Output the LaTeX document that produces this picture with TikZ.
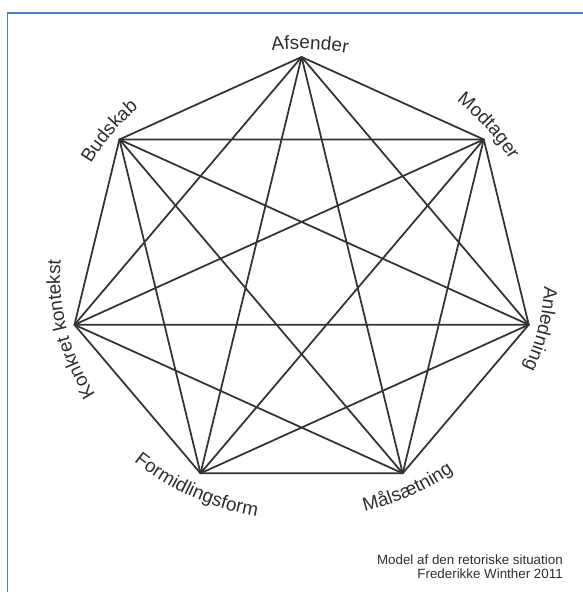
\documentclass[tikz,border=0pt]{standalone}
\usepackage{fontspec}
\setmainfont{Liberation Sans}
\usetikzlibrary{decorations.text}

\definecolor{frameblue}{HTML}{4F81BD}
\definecolor{linegray}{HTML}{333333}
\definecolor{textgray}{HTML}{2E2E2E}
\newcommand{\lblfont}{\fontsize{13.5}{16}\selectfont\color{textgray}}

\begin{document}
\begin{tikzpicture}[x=0.025cm, y=0.025cm,
	edge/.style={draw=linegray, line width=1.25pt, line join=round},
	lbl/.style={decorate, decoration={text along path, text align=center, text={|\lblfont|#1}}}]
	\useasboundingbox (-301.6,-316) rectangle (281.4,276);
	
	% Frame
	\draw[frameblue, line width=1.2pt] (281.4,263.3) -- (-294.1,263.3) -- (-294.1,-316);
	
	% Define corners
	\coordinate (afs) at (90:233 and 219);
	\coordinate (mod) at (38.571:233 and 219);
	\coordinate (anl) at (-12.857:233 and 219);
	\coordinate (mal) at (-64.286:233 and 219);
	\coordinate (form) at (-115.714:233 and 219);
	\coordinate (konk) at (-167.143:233 and 219);
	\coordinate (bud) at (141.429:233 and 219);
	
	% Heptagon and the two stars
	\draw[edge] (afs) -- (mod) -- (anl) -- (mal) -- (form) -- (konk) -- (bud) -- cycle;
	\draw[edge] (afs) -- (anl) -- (form) -- (bud) -- (mod) -- (mal) -- (konk) -- cycle;
	\draw[edge] (afs) -- (mal) -- (bud) -- (anl) -- (konk) -- (mod) -- (form) -- cycle;
	
	% Labels
	\path[lbl=Afsender] (128:241 and 227) arc[start angle=128, end angle=48, x radius=241, y radius=227];
	\path[lbl=Modtager] (79.7:242 and 228) arc[start angle=79.7, end angle=-0.3, x radius=242, y radius=228];
	\path[lbl=Anledning] (27.2:243 and 229) arc[start angle=27.2, end angle=-52.8, x radius=243, y radius=229];
	\path[lbl=Målsætning] (-104.3:257 and 243) arc[start angle=-104.3, end angle=-24.3, x radius=257, y radius=243];
	\path[lbl=Formidlingsform] (-155.7:258 and 244) arc[start angle=-155.7, end angle=-75.7, x radius=258, y radius=244];
	\path[lbl=Konkret kontekst] (233.4:241.5 and 227.5) arc[start angle=233.4, end angle=153.4, x radius=241.5, y radius=227.5];
	\path[lbl=Budskab] (182.1:242 and 228) arc[start angle=182.1, end angle=102.1, x radius=242, y radius=228];
	
	\node[anchor=east, align=right, inner sep=0pt, text=textgray, font=\fontsize{9.5}{10.2}\selectfont] (credit) at (261.4,-291) {Model af den retoriske situation\\Frederikke Winther 2011};
\end{tikzpicture}
\end{document}
